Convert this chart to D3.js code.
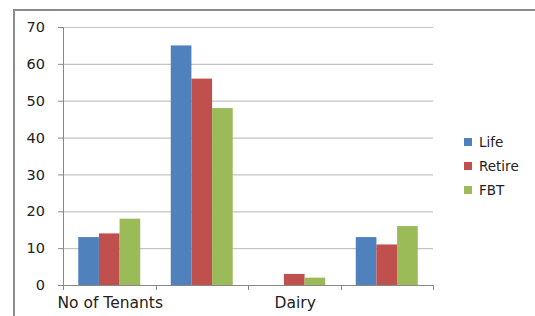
<!DOCTYPE html>
<html>
<head>
<meta charset="utf-8">
<script src="https://cdn.jsdelivr.net/npm/d3@7"></script>
<style>
  body { margin: 0; background: #fff; }
  svg text { font-family: "DejaVu Sans", Verdana, sans-serif; fill: #222; }
</style>
</head>
<body>
<div id="chart"></div>
<script>
// categories (only 1st and 3rd have a visible label in the original)
const categories = ['c1', 'c2', 'c3', 'c4'];
const tickLabels = ['No of Tenants', '', 'Dairy', ''];
const seriesNames = ['Life', 'Retire', 'FBT'];
const life = [13, 65, 0, 13];
const retire = [14, 56, 3, 11];
const fbt = [18, 48, 2, 16];
const yTicks = [0, 10, 20, 30, 40, 50, 60, 70];

const seriesValues = [life, retire, fbt];
const colors = ['#4F81BD', '#C0504D', '#9BBB59'];

const width = 535;
const height = 316;
const margin = { top: 27, right: 102, bottom: 31, left: 63 };

const svg = d3
  .select('#chart')
  .append('svg')
  .attr('width', width)
  .attr('height', height);

// outer chart frame (cut off at right and bottom)
svg
  .append('rect')
  .attr('x', 14)
  .attr('y', 10)
  .attr('width', 600)
  .attr('height', 400)
  .attr('fill', 'none')
  .attr('stroke', '#8c8c8c')
  .attr('stroke-width', 2);

const g = svg.append('g').attr('transform', `translate(${margin.left},${margin.top})`);
const w = width - margin.left - margin.right;
const h = height - margin.top - margin.bottom;

const x = d3.scaleBand().domain(categories).range([0, w]).paddingInner(0.33).paddingOuter(0.165);
const x1 = d3.scaleBand().domain(seriesNames).range([0, x.bandwidth()]);
const y = d3.scaleLinear().domain([0, 70]).range([h, 0]);

// gridlines
g.selectAll('.grid')
  .data(yTicks.slice(1))
  .enter()
  .append('line')
  .attr('x1', 0)
  .attr('x2', w)
  .attr('y1', (d) => y(d) + 0.5)
  .attr('y2', (d) => y(d) + 0.5)
  .attr('stroke', '#c4c4c4')
  .attr('stroke-width', 1.2);

// bars
categories.forEach((c, ci) => {
  seriesNames.forEach((s, si) => {
    const v = seriesValues[si][ci];
    if (v <= 0) return;
    g.append('rect')
      .attr('x', x(c) + x1(s))
      .attr('y', y(v))
      .attr('width', x1.bandwidth())
      .attr('height', h - y(v))
      .attr('fill', colors[si]);
  });
});

// y axis
const yAxis = g.append('g').call(
  d3.axisLeft(y).tickValues(yTicks).tickSize(5).tickPadding(13)
);
yAxis.select('.domain').attr('stroke', '#888');
yAxis.selectAll('.tick line').attr('stroke', '#888');
yAxis.selectAll('text').style('font-size', '14.5px').attr('fill', '#222');

// x axis (ticks at category boundaries)
const xAxis = g.append('g').attr('transform', `translate(0,${h})`);
xAxis
  .append('line')
  .attr('x1', 0)
  .attr('x2', w)
  .attr('y1', 0.5)
  .attr('y2', 0.5)
  .attr('stroke', '#888');
const step = x.step();
d3.range(categories.length + 1).forEach((i) => {
  xAxis
    .append('line')
    .attr('x1', Math.round(i * step) + 0.5)
    .attr('x2', Math.round(i * step) + 0.5)
    .attr('y1', 0)
    .attr('y2', 5)
    .attr('stroke', '#888');
});
xAxis
  .selectAll('.xlabel')
  .data(categories)
  .enter()
  .append('text')
  .attr('x', (d) => x(d) + x.bandwidth() / 2 + 1)
  .attr('y', 23)
  .attr('text-anchor', 'middle')
  .style('font-size', '15.5px')
  .text((d, i) => tickLabels[i]);

// legend
const legend = svg.append('g').attr('transform', 'translate(464,142)');
seriesNames.forEach((s, i) => {
  const row = legend.append('g').attr('transform', `translate(0,${i * 24})`);
  row.append('rect').attr('x', 0).attr('y', -4).attr('width', 8).attr('height', 8).attr('fill', colors[i]);
  row
    .append('text')
    .attr('x', 15)
    .attr('y', 0)
    .attr('dy', '0.36em')
    .style('font-size', '13.5px')
    .text(s);
});
</script>
</body>
</html>
